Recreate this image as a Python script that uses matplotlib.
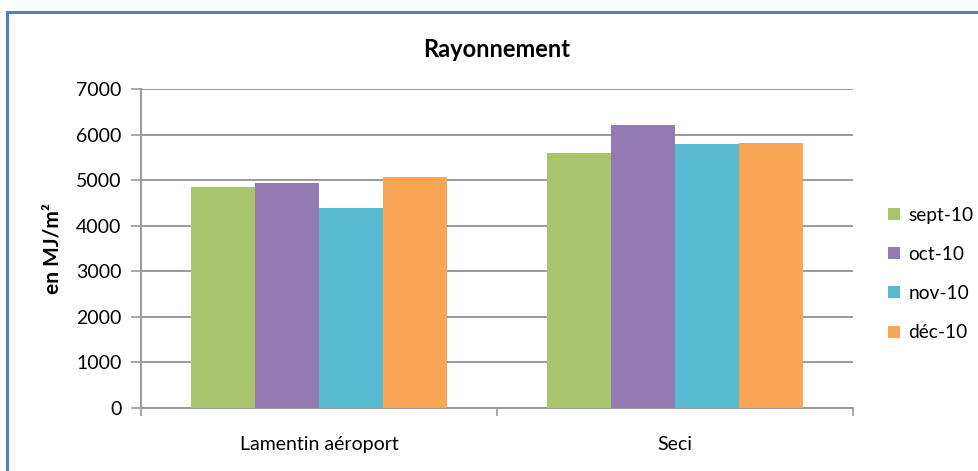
import matplotlib.pyplot as plt
from matplotlib.patches import Rectangle
import numpy as np

plt.rcParams['font.family'] = ['Lato', 'DejaVu Sans']

# Monthly radiation totals per station (MJ/m²)
stations = ["Lamentin aéroport", "Seci"]
months = ["sept-10", "oct-10", "nov-10", "déc-10"]
sept_10 = [4850, 5590]
oct_10 = [4940, 6200]
nov_10 = [4380, 5800]
dec_10 = [5070, 5810]
series = [sept_10, oct_10, nov_10, dec_10]
colors = ["#AAC46C", "#927AB2", "#58BAD1", "#F8A655"]
yticks = [0, 1000, 2000, 3000, 4000, 5000, 6000, 7000]

grid_col = "#9A9A9A"

fig = plt.figure(figsize=(9.79, 4.71), dpi=100)
ax = fig.add_axes([0.144, 0.1338, 0.7273, 0.6772])

# outer chart frame
fig.patches.append(Rectangle((7 / 979, -0.1), 1.2, 1 - 12 / 471 + 0.1,
                             transform=fig.transFigure, fill=False,
                             edgecolor="#4F81BD", linewidth=2.2))

group_w = 0.72
bar_w = group_w / len(series)
centers = np.arange(len(stations)) + 0.5
for i, (vals, col, lab) in enumerate(zip(series, colors, months)):
    xs = centers - group_w / 2 + bar_w * (i + 0.5)
    ax.bar(xs, vals, width=bar_w, color=col, label=lab, zorder=3)

ax.set_xlim(0, len(stations))
ax.set_ylim(0, 7000)
ax.set_yticks(yticks)
ax.yaxis.grid(True, color=grid_col, linewidth=1.4, zorder=0)
ax.set_axisbelow(True)

ax.set_xticks(centers)
ax.set_xticklabels(stations, fontsize=14)
ax.set_xticks(np.arange(len(stations) + 1), minor=True)
ax.tick_params(axis='x', which='major', length=0, pad=20)
ax.tick_params(axis='x', which='minor', length=6, width=1.2, color=grid_col, direction='out')
ax.tick_params(axis='y', length=7, width=1.2, color=grid_col, labelsize=14, pad=7)

for side in ['top', 'right']:
    ax.spines[side].set_visible(False)
for side in ['left', 'bottom']:
    ax.spines[side].set_color(grid_col)
    ax.spines[side].set_linewidth(1.4)

ax.set_title("Rayonnement", fontsize=17, fontweight='bold', pad=23)
ax.set_ylabel("en MJ/m²", fontsize=15, fontweight='bold', labelpad=10)

ax.legend(loc='center left', bbox_to_anchor=(1.025, 0.42), frameon=False,
          fontsize=13.8, handlelength=0.6, handleheight=0.6,
          handletextpad=0.45, labelspacing=1.16)

fig.savefig("out.png", dpi=100)
